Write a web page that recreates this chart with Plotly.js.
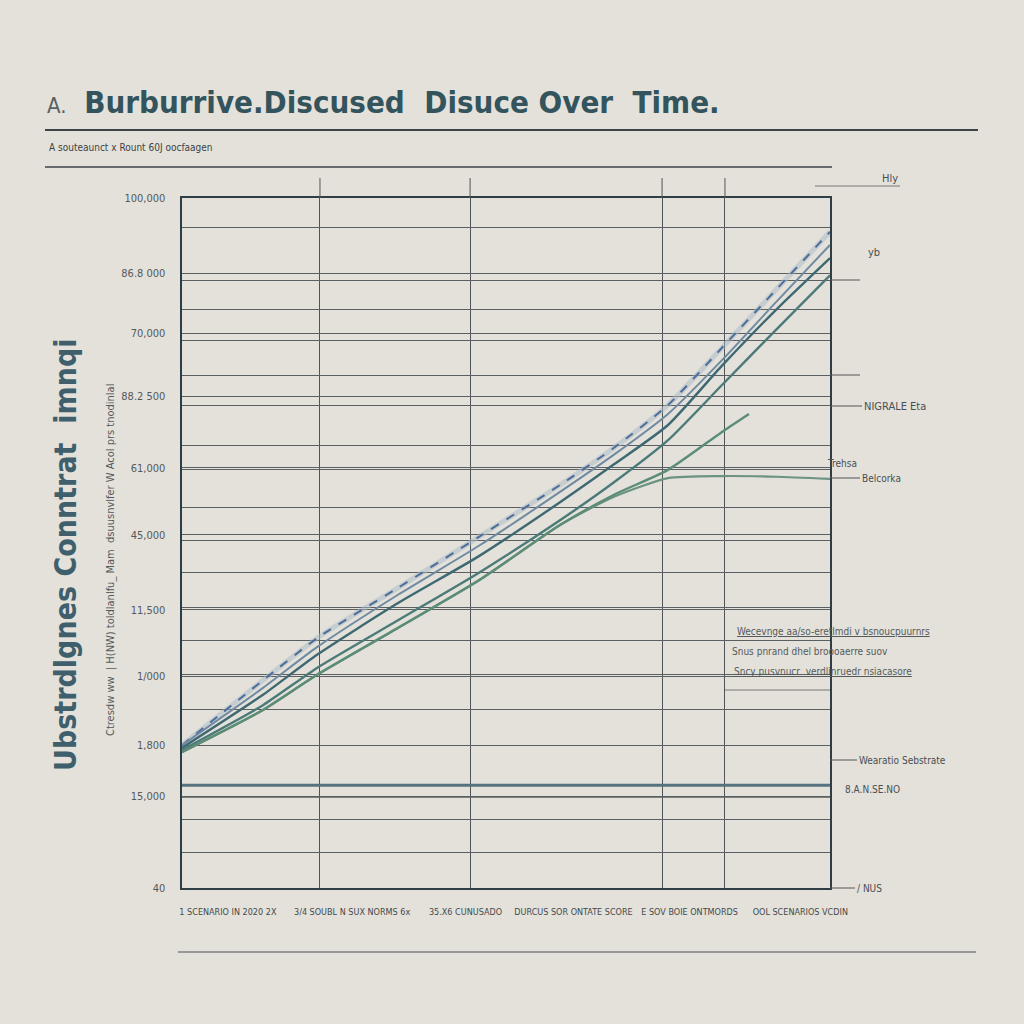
<!DOCTYPE html>
<html>
<head>
<meta charset="utf-8">
<script src="https://cdn.plot.ly/plotly-3.0.1.min.js"></script>
<style>
html,body{margin:0;padding:0;background:#e3e1da;}
#chart{width:1024px;height:1024px;}
</style>
</head>
<body>
<div id="chart"></div>
<script>
// ---- data ----
const periods = [0, 3, 5, 8, 11, 14, 16, 18, 20, 22, 24];
const seriesA = [20.7, 30.1, 36.2, 43.5, 50.9, 58.4, 63.8, 70.0, 78.3, 86.7, 95.1];
const seriesB = [20.7, 29.0, 34.9, 42.5, 49.6, 57.4, 62.8, 68.7, 76.5, 84.9, 93.2];
const seriesC = [20.3, 28.0, 33.8, 41.3, 48.1, 55.9, 61.4, 67.1, 75.7, 83.8, 91.3];
const seriesD = [20.0, 26.5, 31.9, 38.8, 45.7, 53.3, 58.8, 64.9, 72.9, 80.9, 88.8];
const periodsE = [0, 3, 5, 8, 11, 14, 16, 18, 20, 21];
const seriesE = [19.7, 25.8, 30.9, 37.7, 44.6, 52.6, 57.0, 60.6, 66.1, 68.7];
const seriesF = [19.7, 25.8, 30.9, 37.7, 44.6, 52.6, 56.7, 59.4, 59.7, 59.6, 59.3];
const baselinePeriods = [0, 24];
const baselineHigh = [14.9, 14.9];
const baselineLow = [13.2, 13.2];

const yTickVals = [0, 13.3, 20.7, 30.7, 40.3, 51.2, 60.9, 71.3, 80.4, 89.1, 100];
const yTickText = ["40", "15,000", "1,800", "1/000", "11,500", "45,000", "61,000", "88.2 500", "70,000", "86.8 000", "100,000"];
const yGridVals = [95.7, 88.1, 83.8, 79.3, 74.3, 70.0, 64.2, 60.6, 55.1, 50.4, 45.7, 40.6, 35.9, 30.9, 25.8, 20.7, 9.9, 5.1];
const xTickVals = [1.7, 6.3, 10.5, 14.5, 18.8, 22.9];
const xTickText = ["1 SCENARIO IN 2020 2X", "3/4 SOUBL N SUX NORMS 6x", "35.X6 CUNUSADO", "DURCUS SOR ONTATE SCORE", "E SOV BOIE ONTMORDS", "OOL SCENARIOS VCDIN"];
const xGridVals = [5.11, 10.67, 17.78, 20.11];

const narrow = "DejaVu Sans Condensed, Liberation Sans Narrow, sans-serif";

function line(x, y, color, width, dash, name) {
  return {x: x, y: y, type: 'scatter', mode: 'lines', name: name,
    line: {color: color, width: width, dash: dash || 'solid', shape: 'spline', smoothing: 0.6},
    hoverinfo: 'skip'};
}

const traces = [
  line(baselinePeriods, baselineHigh, '#56727e', 3, 'solid', 'high'),
  line(baselinePeriods, baselineLow, '#5a5f60', 1.6, 'solid', 'low'),
  line(periods, seriesA, 'rgba(170,186,200,0.5)', 5, 'solid', 'A halo'),
  line(periods, seriesA, '#4d6d98', 2, 'dash', 'A'),
  line(periods, seriesB, '#6f8aa1', 2, 'solid', 'B'),
  line(periods, seriesC, '#3f6972', 2.4, 'solid', 'C'),
  line(periods, seriesD, '#4c7a79', 2.4, 'solid', 'D'),
  line(periods, seriesF, '#6c9282', 2.2, 'solid', 'F'),
  line(periodsE, seriesE, '#5b8c76', 2.4, 'solid', 'E')
];

function px2x(px) { return (px - 182) / 648; }
function py2y(py) { return (888 - py) / 690; }

const ann = [];
function note(text, px, py, opts) {
  ann.push(Object.assign({text: text, xref: 'paper', yref: 'paper', x: px2x(px), y: py2y(py),
    xanchor: 'left', yanchor: 'middle', showarrow: false,
    font: {family: narrow, size: 10, color: '#4a4f52'}}, opts || {}));
}
note('<span style="font-weight:normal;color:#5a6064;font-size:22px">A.</span>  <b>Burburrive.Discused  Disuce Over  Time.</b>', 45, 102,
  {font: {family: narrow, size: 31, color: '#33545c'}});
note('A souteaunct x Rount 60J oocfaagen', 47, 148, {font: {family: narrow, size: 10, color: '#3c4144'}});
note('<b>Ubstrdlgnes Conntrat  imnqi</b>', 65, 555,
  {xanchor: 'center', textangle: -90, font: {family: narrow, size: 30, color: '#3f5f6c'}});
note("Ctresdw ww  | H(NW) toldlanlfu_ Mam  dsuusnvlfer W Acol prs tnodinlal", 110, 560,
  {xanchor: 'center', textangle: -90, font: {family: narrow, size: 11, color: '#55595b'}});
note('Hly', 880, 178, {font: {family: narrow, size: 11, color: '#4a4f52'}});
note('yb', 866, 252, {font: {family: narrow, size: 11, color: '#4a4f52'}});
note('NIGRALE Eta', 862, 406, {font: {family: narrow, size: 11, color: '#4a4f52'}});
note('Trehsa', 825, 463, {font: {family: narrow, size: 10, color: '#4a4f52'}});
note('Belcorka', 860, 478, {font: {family: narrow, size: 10, color: '#4a4f52'}});
note('<u>Wecevnge aa/so-eretlmdi v bsnoucpuurnrs</u>', 735, 631, {font: {family: narrow, size: 10, color: '#555a5c'}});
note('Snus pnrand dhel broooaerre suov', 730, 651, {font: {family: narrow, size: 10, color: '#555a5c'}});
note('<u>Sncy pusvnucr  verdlinruedr nsiacasore</u>', 732, 671, {font: {family: narrow, size: 10, color: '#555a5c'}});
note('Wearatio Sebstrate', 857, 760, {font: {family: narrow, size: 10, color: '#4a4f52'}});
note('8.A.N.SE.NO', 843, 789, {font: {family: narrow, size: 10, color: '#4a4f52'}});
note('/ NUS', 855, 888, {font: {family: narrow, size: 10, color: '#4a4f52'}});

const shapes = [];
function rule(x0, x1, py, w, c) {
  shapes.push({type: 'line', xref: 'paper', yref: 'paper', x0: px2x(x0), x1: px2x(x1),
    y0: py2y(py), y1: py2y(py), line: {color: c || '#3c4448', width: w || 1}});
}
rule(45, 978, 130, 2, '#3c4448');
rule(45, 832, 167, 1.6, '#3c4448');
rule(178, 976, 952, 1.2, '#4a5054');
rule(830, 860, 280, 1, '#555');
rule(830, 860, 375, 1, '#555');
rule(830, 862, 406, 1, '#555');
rule(830, 860, 478, 1, '#555');
rule(830, 857, 760, 1, '#555');
rule(830, 855, 888, 1, '#555');
rule(725, 830, 690, 1, '#777');
rule(815, 900, 186, 1, '#777');
xGridVals.forEach(v => shapes.push({type: 'line', xref: 'x', yref: 'paper', x0: v, x1: v,
  y0: 1, y1: py2y(178), line: {color: '#555', width: 1}}));

const layout = {
  width: 1024, height: 1024,
  paper_bgcolor: '#e3e1da', plot_bgcolor: '#e3e1da',
  margin: {l: 182, r: 194, t: 198, b: 136},
  showlegend: false,
  xaxis: {
    range: [0, 24], showgrid: false, zeroline: false,
    tickmode: 'array', tickvals: xTickVals, ticktext: xTickText,
    ticks: '', ticklabelstandoff: 14, tickangle: 0,
    tickfont: {family: narrow, size: 9, color: '#44494b'},
    showline: true, linecolor: '#2f3d44', linewidth: 2.4, mirror: true,
    minor: {tickmode: 'array', tickvals: xGridVals, showgrid: true, gridcolor: '#4f5557', gridwidth: 1, ticks: ''}
  },
  yaxis: {
    range: [0, 100], zeroline: false,
    tickmode: 'array', tickvals: yTickVals, ticktext: yTickText,
    showgrid: true, gridcolor: '#5a5f61', gridwidth: 1,
    ticks: '', ticklabelstandoff: 12,
    tickfont: {family: narrow, size: 11, color: '#55595b'},
    showline: true, linecolor: '#2f3d44', linewidth: 2.4, mirror: true,
    minor: {tickmode: 'array', tickvals: yGridVals, showgrid: true, gridcolor: '#5a5f61', gridwidth: 1, ticks: ''}
  },
  annotations: ann,
  shapes: shapes
};

Plotly.newPlot('chart', traces, layout, {staticPlot: true, displayModeBar: false});
</script>
</body>
</html>
